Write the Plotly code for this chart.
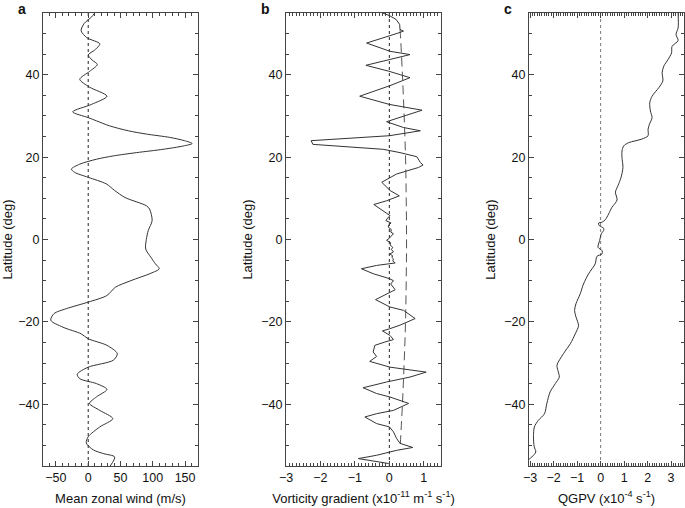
import plotly.graph_objects as go

# ---- Panel a: mean zonal wind (m/s) vs latitude ----
lat_a = [55, 54, 52.5, 50.7, 49, 47.5, 46, 44.8, 43.6, 42.5, 40.8, 38.9, 37, 34.8, 32.8, 31, 29.6,
         28.8, 27.6, 26.4, 25.6, 24.8, 24, 23.3, 22.7, 21.9, 21.1, 20.3, 19.5, 18.3, 17.1, 16.3,
         15.1, 13.5, 11.9, 10.2, 8.2, 7.4, 4.6, 2.2, 0, -2.3, -4.3, -5.9, -7.1, -8.2, -10, -11.6,
         -13.6, -15.2, -16.8, -18, -19.6, -21.3, -22.9, -24.1, -25.7, -27.7, -29.3, -31, -32.7,
         -33.8, -35, -36.4, -38.2, -39.8, -41.5, -43.5, -45.5, -47.9, -49.4, -51.1, -52, -52.8, -55]
u_a = [10, 5, -6, -11, -2, 18, 10, 0, 6, 14, 2, -13, 2, 29, 5, -24, 0,
       13, 33, 62, 90, 126, 149, 161, 147, 116, 75, 39, 13, -13, -26, -21,
       0, 28, 41, 57, 90, 95, 99, 93, 90, 89, 97, 104, 110, 97, 66, 42,
       29, 0, -34, -53, -58, -39, -11, 0, 29, 45, 39, 0, -17,
       -13, 13, 29, 13, 2, 18, 38, 18, 0, -3, 8, 24, 41, 34]

# ---- Panel b: vorticity gradient (x1e-11 m^-1 s^-1) ----
lat_b = [55, 54.3, 53.4, 52.2, 51, 50.6, 50.2, 47.7, 45.7, 44.9, 42.3, 40.9, 39.3, 37.3, 34.8, 32.8,
         31.4, 30, 28.6, 27.2, 26.4, 25.2, 24, 23.1, 21.9, 21.1, 20.1, 18.7, 18.1, 17.5, 15.9, 13.9,
         11.9, 10.6, 9.4, 8.5, 7.4, 5.8, 5.2, 4.6, 4.0, 3.5, 3.0, 2.4, 1.8, 1.4, 0.8, 0.3, -0.2,
         -0.8, -1.3, -1.9, -2.4, -3.0, -3.5, -4.0, -4.3, -4.7, -5.2, -5.7, -6.3, -7.1, -8.3, -9.5,
         -10, -10.8, -12.2, -13.2, -14.6, -16.4, -17.2, -19.2, -20.8, -21.7, -22.2, -23.3, -24.3,
         -24.9, -25.7, -27.3, -28.4, -29.6, -31, -32.2, -33.4, -34.6, -36, -37.4, -38.2, -39.8,
         -41.5, -42.3, -43.1, -44.7, -45.5, -46.7, -48.3, -49.5, -50.5, -51.2, -52.4, -53.2, -54.4]
vg_b = [-0.19, 0.02, 0.2, 0.3, 0.31, 0.41, 0.28, -0.66, 0.02, 0.6, -0.68, -0.03, 0.6, 0.0, -0.86, 0.0,
        0.95, 0.41, -0.08, 0.41, 0.9, 0.0, -2.27, -2.22, -0.18, 0.31, 0.8, 0.9, 0.98, 0.85, 0.21, -0.22,
        0.02, 0.29, -0.08, -0.45, -0.27, 0.02, -0.05, -0.1, 0.05, -0.02, -0.03, 0.06, 0.04, 0.12, 0.05, 0.0, -0.08,
        0.04, 0.02, 0.1, 0.06, 0.12, 0.02, 0.1, 0.07, 0.12, 0.1, 0.17, -0.37, -0.81, -0.47, 0.0,
        0.12, 0.04, 0.17, -0.08, -0.4, 0.02, 0.41, 0.75, 0.31, 0.0, -0.2, 0.02, 0.12,
        -0.13, -0.42, -0.47, -0.37, -0.57, 0.02, 1.07, 0.6, -0.08, -0.76, -0.37, 0.0, 0.56,
        0.12, -0.37, -0.71, -0.37, 0.0, 0.12, 0.21, 0.31, 0.68, 0.21, -0.37, -0.9, -0.02]

# dashed reference curve in panel b
lat_beta = [51, 50, 40, 30, 20, 10, 0, -10, -20, -30, -40, -51]
beta_b = [0.31, 0.32, 0.38, 0.43, 0.47, 0.49, 0.50, 0.49, 0.47, 0.43, 0.38, 0.31]

# ---- Panel c: QGPV (x1e-4 s^-1) ----
lat_c = [55, 51.4, 49.8, 48.3, 46.9, 45.3, 43.7, 42.1, 40.5, 38.5, 36.9, 34.8, 33.2, 31.2, 29.6, 28,
         26.8, 25.2, 24.4, 23.5, 22.7, 21.5, 19.9, 17.5, 15.1, 13.1, 11.5, 9.6, 7.8, 6.2, 4.8, 4.2,
         4, 3.4, 2.7, 2.2, 1.4, -0.2, -1.9, -2.7, -3.5, -4.1, -5.9, -8.3, -10.8, -13.2, -15.6,
         -17.2, -18.8, -20.9, -22.9, -25.3, -27.7, -30.5, -31.8, -33.4, -35, -37, -39.8, -42.3,
         -43.9, -45.5, -47.9, -50.3, -51.6, -52.8, -53.6]
q_c = [3.3, 3.3, 3.21, 3.3, 3.04, 3.02, 2.87, 2.69, 2.62, 2.65, 2.48, 2.19, 2.09, 2.12, 2.19, 2.08,
       2.02, 2.02, 1.76, 1.19, 0.98, 0.91, 0.91, 0.95, 0.87, 0.74, 0.63, 0.7, 0.48, 0.34, 0.2, 0.06,
       -0.09, -0.06, 0.13, 0.13, 0.03, -0.04, -0.11, 0.06, 0.06, -0.16, -0.23, -0.51, -0.73, -0.87, -1.05,
       -1.11, -1.05, -0.94, -1.08, -1.29, -1.58, -1.86, -1.82, -1.76, -1.93, -2.15, -2.29, -2.39,
       -2.65, -2.82, -2.86, -2.83, -2.76, -2.93, -3.1]

zero_lat = [-55, 55]
zero_val = [0, 0]

FONT = "Liberation Sans, Arial, sans-serif"
LC = "#333333"

fig = go.Figure()
# panel a
fig.add_trace(go.Scatter(x=zero_val, y=zero_lat, mode="lines", line=dict(color="#222", width=1, dash="dot"),
                         xaxis="x", yaxis="y", hoverinfo="skip"))
fig.add_trace(go.Scatter(x=u_a, y=lat_a, mode="lines", line=dict(color=LC, width=1, shape="spline", smoothing=0.8),
                         xaxis="x", yaxis="y"))
# panel b
fig.add_trace(go.Scatter(x=zero_val, y=zero_lat, mode="lines", line=dict(color="#222", width=1, dash="dot"),
                         xaxis="x2", yaxis="y2", hoverinfo="skip"))
fig.add_trace(go.Scatter(x=beta_b, y=lat_beta, mode="lines", line=dict(color="#555", width=1, dash="9px,5px", shape="spline"),
                         xaxis="x2", yaxis="y2"))
fig.add_trace(go.Scatter(x=vg_b, y=lat_b, mode="lines", line=dict(color=LC, width=1),
                         xaxis="x2", yaxis="y2"))
# panel c
fig.add_trace(go.Scatter(x=zero_val, y=zero_lat, mode="lines", line=dict(color="#777", width=1, dash="dot"),
                         xaxis="x3", yaxis="y3", hoverinfo="skip"))
fig.add_trace(go.Scatter(x=q_c, y=lat_c, mode="lines", line=dict(color=LC, width=1, shape="spline", smoothing=0.8),
                         xaxis="x3", yaxis="y3"))

ax_common = dict(showline=True, linecolor="#444", linewidth=1, mirror="ticks", ticks="inside",
                 tickcolor="#444", showgrid=False, zeroline=False,
                 tickfont=dict(family=FONT, size=12.5, color="#111"))

def xax(dom, rng, dtick, minor_dtick, anchor, title):
    d = dict(ax_common)
    d.update(domain=dom, range=rng, dtick=dtick, tick0=0, ticklen=5, anchor=anchor,
             minor=dict(dtick=minor_dtick, tick0=0, ticks="inside", ticklen=3, tickcolor="#444"),
             title=dict(text=title, font=dict(family=FONT, size=13, color="#111"), standoff=9))
    return d

def yax(anchor):
    d = dict(ax_common)
    d.update(domain=[0, 1], range=[-55, 55], dtick=20, tick0=0, ticklen=5, anchor=anchor,
             minor=dict(dtick=5, tick0=0, ticks="inside", ticklen=3, tickcolor="#444"),
             title=dict(text="Latitude (deg)", font=dict(family=FONT, size=13, color="#111"), standoff=5))
    return d

fig.update_layout(
    width=685, height=508,
    margin=dict(l=43, r=1, t=13, b=42),
    paper_bgcolor="white", plot_bgcolor="white",
    showlegend=False,
    font=dict(family=FONT, size=12, color="#111"),
    xaxis=xax([0, 0.2418], [-70, 170], 50, 10, "y", "Mean zonal wind (m/s)"),
    xaxis2=xax([0.3791, 0.6209], [-3, 1.5], 1, 0.1, "y2",
               "Vorticity gradient (x10<sup>-11</sup> m<sup>-1</sup> s<sup>-1</sup>)"),
    xaxis3=xax([0.7582, 1.0], [-3.05, 3.55], 1, 0.1, "y3", "QGPV (x10<sup>-4</sup> s<sup>-1</sup>)"),
    yaxis=yax("x"),
    yaxis2=yax("x2"),
    yaxis3=yax("x3"),
)

for txt, xp in [("a", 22), ("b", 265), ("c", 508)]:
    fig.add_annotation(text="<b>%s</b>" % txt, xref="paper", yref="paper",
                       x=(xp - 43) / 641, y=1.0,
                       yshift=4, xanchor="center", yanchor="middle", showarrow=False,
                       font=dict(family=FONT, size=14, color="#111"))

fig.write_html("out.html", config={"displayModeBar": False},
               post_script="document.body.style.margin='0';document.body.style.overflow='hidden';")
